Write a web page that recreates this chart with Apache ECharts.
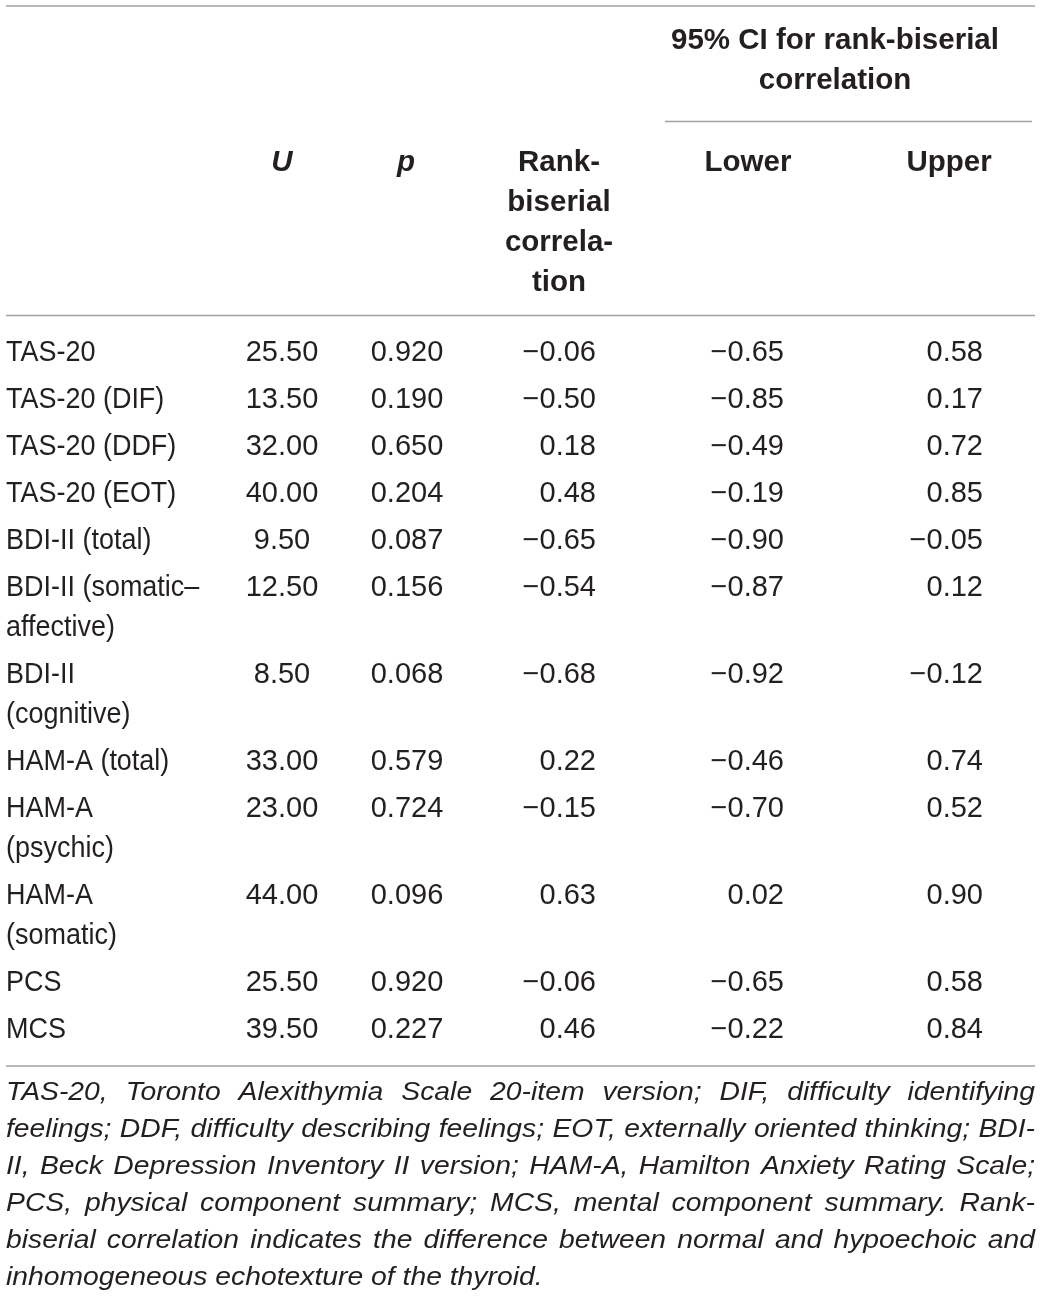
<!DOCTYPE html>
<html><head><meta charset="utf-8">
<script src="https://cdn.jsdelivr.net/npm/echarts@6/dist/echarts.min.js"></script>
<style>html,body{margin:0;padding:0;background:#fff}#c{width:1041px;height:1301px}</style>
</head><body><div id="c"></div>
<script>
// ---------- data ----------
const rowLabels = [
  ['TAS-20'],
  ['TAS-20 (DIF)'],
  ['TAS-20 (DDF)'],
  ['TAS-20 (EOT)'],
  ['BDI-II (total)'],
  ['BDI-II (somatic\u2013', 'affective)'],
  ['BDI-II', '(cognitive)'],
  ['HAM-A (total)'],
  ['HAM-A', '(psychic)'],
  ['HAM-A', '(somatic)'],
  ['PCS'],
  ['MCS']
];
const uValues      = [25.50, 13.50, 32.00, 40.00, 9.50, 12.50, 8.50, 33.00, 23.00, 44.00, 25.50, 39.50];
const pValues      = [0.920, 0.190, 0.650, 0.204, 0.087, 0.156, 0.068, 0.579, 0.724, 0.096, 0.920, 0.227];
const rankBiserial = [-0.06, -0.50, 0.18, 0.48, -0.65, -0.54, -0.68, 0.22, -0.15, 0.63, -0.06, 0.46];
const ciLower      = [-0.65, -0.85, -0.49, -0.19, -0.90, -0.87, -0.92, -0.46, -0.70, 0.02, -0.65, -0.22];
const ciUpper      = [0.58, 0.17, 0.72, 0.85, -0.05, 0.12, -0.12, 0.74, 0.52, 0.90, 0.58, 0.84];
const spannerHeader = ['95% CI for rank-biserial', 'correlation'];
const columnHeaders = [['U'], ['p'], ['Rank-', 'biserial', 'correla-', 'tion'], ['Lower'], ['Upper']];
const footnoteLines = [
  'TAS-20, Toronto Alexithymia Scale 20-item version; DIF, difficulty identifying',
  'feelings; DDF, difficulty describing feelings; EOT, externally oriented thinking; BDI-',
  'II, Beck Depression Inventory II version; HAM-A, Hamilton Anxiety Rating Scale;',
  'PCS, physical component summary; MCS, mental component summary. Rank-',
  'biserial correlation indicates the difference between normal and hypoechoic and',
  'inhomogeneous echotexture of the thyroid.'
];

// ---------- layout & style ----------
const W = 1041, H = 1301;
const TEXT = '#231f20', RULE = '#a0a0a0';
const FONT = '"Liberation Sans", Arial, Helvetica, sans-serif';
const BODY_FS = 29, HEAD_FS = 29.5, NOTE_FS = 25.5;
const LEFT = 6, RIGHT = 1035;
const columns = [
  { anchor: 282, headAnchor: 282, align: 'center', dec: 2, italic: true },
  { anchor: 407, headAnchor: 406, align: 'center', dec: 3, italic: true },
  { anchor: 596, headAnchor: 559, align: 'right', dec: 2 },
  { anchor: 784, headAnchor: 748, align: 'right', dec: 2 },
  { anchor: 983, headAnchor: 949, align: 'right', dec: 2 }
];
const RULES = [
  { y: 6, x1: LEFT, x2: RIGHT },
  { y: 121.5, x1: 665, x2: 1032 },
  { y: 315.5, x1: LEFT, x2: RIGHT },
  { y: 1066, x1: LEFT, x2: RIGHT }
];
const FIRST_ROW_Y = 352.5, ROW_STEP = 47, WRAP_STEP = 40;
const HEAD_Y = 163, HEAD_STEP = 40, SPAN_Y = 41;
const NOTE_Y = 1093, NOTE_STEP = 37;

function fmt(v, dec) {
  const s = Math.abs(v).toFixed(dec);
  return v < 0 ? '\u2212' + s : s;
}

// row positions computed from line counts
const rowY = [];
(function () {
  let y = FIRST_ROW_Y;
  rowLabels.forEach(lines => { rowY.push(y); y += ROW_STEP + (lines.length - 1) * WRAP_STEP; });
})();

const tableData = rowLabels.map((lab, i) =>
  [i, rowY[i], uValues[i], pValues[i], rankBiserial[i], ciLower[i], ciUpper[i]]);

function txt(pt, text, o) {
  o = o || {};
  return {
    type: 'text', x: pt[0], y: pt[1], scaleX: o.scaleX || 1,
    style: {
      text: text, fill: TEXT, fontFamily: FONT,
      fontSize: o.fs || BODY_FS,
      fontWeight: o.bold ? 'bold' : 'normal',
      fontStyle: o.italic ? 'italic' : 'normal',
      align: o.align || 'left', verticalAlign: 'middle'
    }
  };
}

// footnote justification
const measureCtx = document.createElement('canvas').getContext('2d');
function measure(s, font) { measureCtx.font = font; return measureCtx.measureText(s).width; }
const noteFont = 'italic ' + NOTE_FS + 'px ' + FONT;
const noteWords = footnoteLines.map(l => l.split(' '));
const spaceW = measure(' ', noteFont);
let noteScale = 1.11;
noteWords.forEach((ws, li) => {
  if (li === noteWords.length - 1) return;
  const sum = ws.reduce((a, w) => a + measure(w, noteFont), 0);
  const lim = (RIGHT - LEFT) / (sum + 0.6 * spaceW * (ws.length - 1));
  noteScale = Math.min(noteScale, lim);
});

const chart = echarts.init(document.getElementById('c'), null, { renderer: 'canvas' });
chart.setOption({
  animation: false,
  backgroundColor: '#fff',
  grid: { left: 0, right: 0, top: 0, bottom: 0 },
  xAxis: { type: 'value', min: 0, max: W, show: false },
  yAxis: { type: 'value', min: 0, max: H, inverse: true, show: false },
  series: [
    {
      type: 'custom',
      coordinateSystem: 'cartesian2d',
      data: tableData,
      renderItem: function (params, api) {
        const i = api.value(0), y = api.value(1);
        const children = [];
        rowLabels[i].forEach((line, j) => {
          children.push(txt(api.coord([LEFT, y + j * WRAP_STEP]), line, { scaleX: 0.93 }));
        });
        columns.forEach((col, c) => {
          children.push(txt(api.coord([col.anchor, y]), fmt(api.value(2 + c), col.dec), { align: col.align }));
        });
        return { type: 'group', children: children };
      }
    },
    {
      type: 'custom',
      coordinateSystem: 'cartesian2d',
      data: [[0, 0]],
      renderItem: function (params, api) {
        const children = [];
        RULES.forEach(r => {
          const a = api.coord([r.x1, r.y]), b = api.coord([r.x2, r.y]);
          children.push({ type: 'line', shape: { x1: a[0], y1: a[1], x2: b[0], y2: b[1] },
            style: { stroke: RULE, lineWidth: 1.6 } });
        });
        spannerHeader.forEach((line, j) => {
          children.push(txt(api.coord([835, SPAN_Y + j * HEAD_STEP]), line,
            { bold: true, fs: HEAD_FS, align: 'center' }));
        });
        columnHeaders.forEach((lines, c) => {
          lines.forEach((line, j) => {
            children.push(txt(api.coord([columns[c].headAnchor, HEAD_Y + j * HEAD_STEP]), line,
              { bold: true, fs: HEAD_FS, align: 'center', italic: columns[c].italic }));
          });
        });
        noteWords.forEach((ws, li) => {
          const yy = NOTE_Y + li * NOTE_STEP;
          if (li === noteWords.length - 1) {
            children.push(txt(api.coord([LEFT, yy]), footnoteLines[li],
              { italic: true, fs: NOTE_FS, scaleX: noteScale }));
            return;
          }
          const widths = ws.map(w => measure(w, noteFont) * noteScale);
          const sum = widths.reduce((a, b) => a + b, 0);
          const gap = (RIGHT - LEFT - sum) / (ws.length - 1);
          let x = LEFT;
          ws.forEach((w, k) => {
            children.push(txt(api.coord([x, yy]), w, { italic: true, fs: NOTE_FS, scaleX: noteScale }));
            x += widths[k] + gap;
          });
        });
        return { type: 'group', children: children };
      }
    }
  ]
});
</script>
</body></html>
